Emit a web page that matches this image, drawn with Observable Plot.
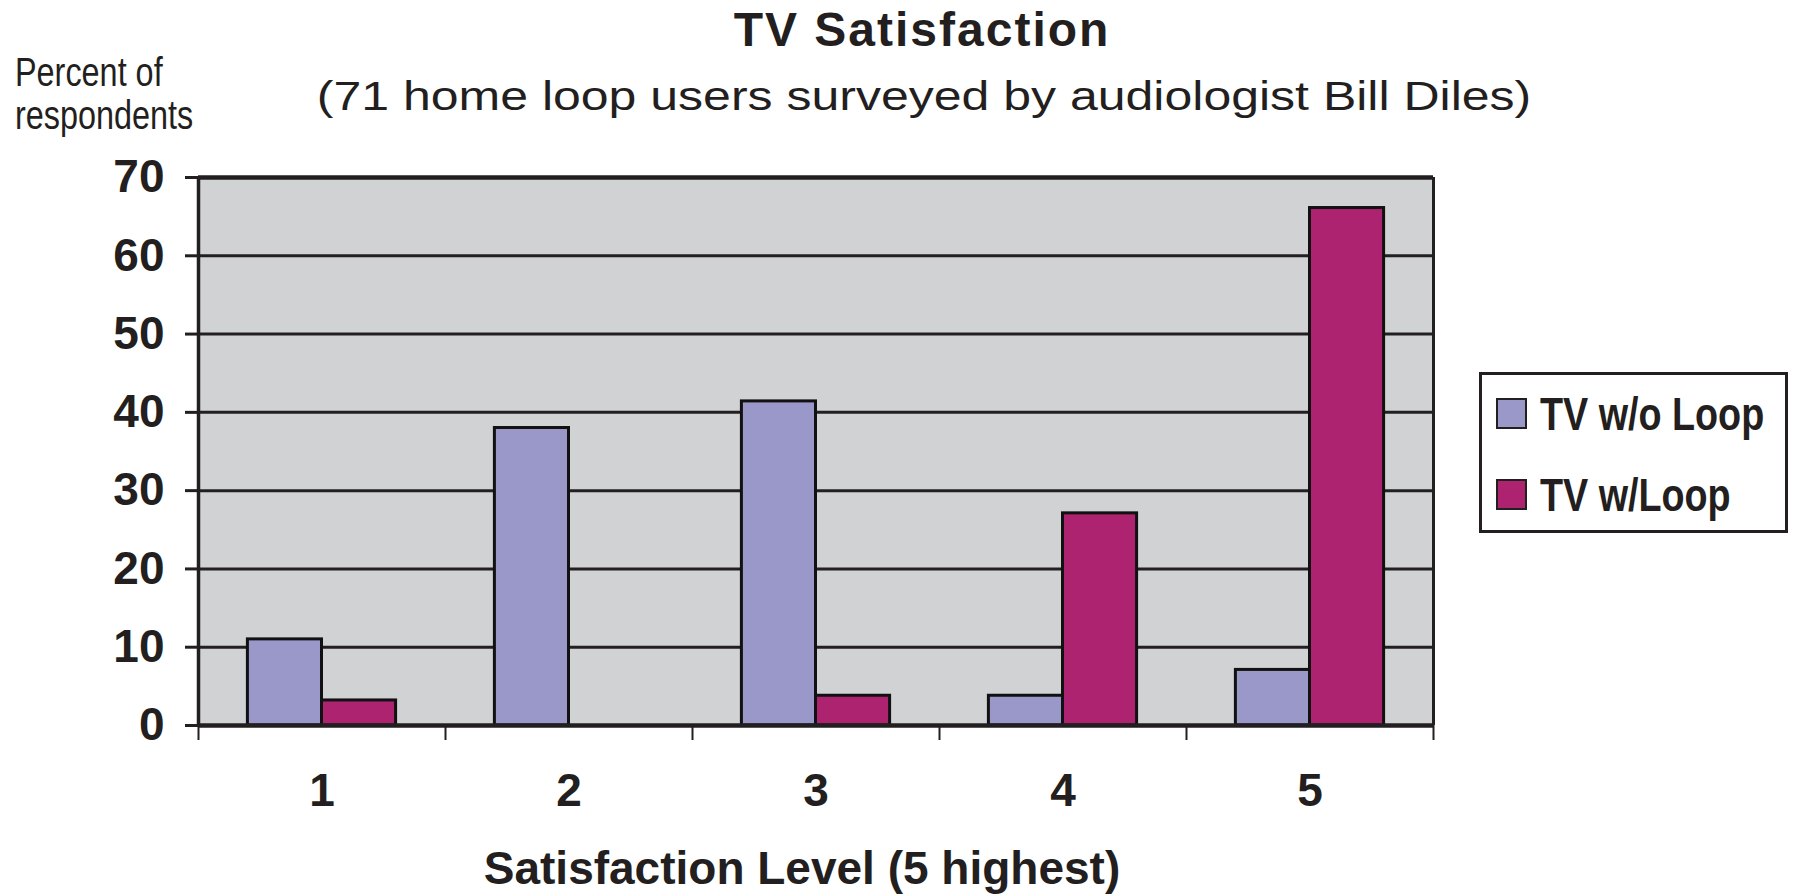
<!DOCTYPE html>
<html>
<head>
<meta charset="utf-8">
<script src="https://cdn.jsdelivr.net/npm/d3@7"></script>
<script src="https://cdn.jsdelivr.net/npm/@observablehq/plot@0.6"></script>
<style>
  html, body { margin: 0; padding: 0; background: #fff; }
  #wrap { position: relative; width: 1794px; height: 894px; overflow: hidden; color: #231f20; }
  #chart { position: absolute; left: 0; top: 0; }
  .txt { position: absolute; white-space: nowrap; font-family: "Liberation Sans", Arial, sans-serif; }
  #title { left: 922px; top: 6px; font-size: 48px; line-height: 48px; font-weight: bold; letter-spacing: 2px; transform: translateX(-50%); }
  #subtitle { left: 924px; top: 76px; font-size: 40px; line-height: 40px; transform: translateX(-50%) scaleX(1.25); }
  .ylab { left: 15px; font-size: 41px; line-height: 41px; transform: scaleX(0.79); transform-origin: 0 0; }
  #legend { position: absolute; left: 1479px; top: 372px; width: 303px; height: 155px; border: 3px solid #231f20; background: #fff; }
  .item { position: absolute; left: 14px; height: 31px; font-family: "Liberation Sans", Arial, sans-serif; font-weight: bold; font-size: 46px; white-space: nowrap; }
  .sw { position: absolute; left: 0; top: 0; width: 27px; height: 27px; border: 2px solid #231f20; }
  .lab { position: absolute; left: 44px; top: -7px; line-height: 46px; transform: scaleX(0.82); transform-origin: 0 0; }
</style>
</head>
<body>
<div id="wrap">
  <div id="chart"></div>
  <div id="title" class="txt"></div>
  <div id="subtitle" class="txt"></div>
  <div id="legend"></div>
</div>
<script>
// ---- data ----
const titleText = "TV Satisfaction";
const subtitleText = "(71 home loop users surveyed by audiologist Bill Diles)";
const yLabelLines = ["Percent of", "respondents"];
const xLabelText = "Satisfaction Level (5 highest)";
const levels = [1, 2, 3, 4, 5];
const seriesNames = ["TV w/o Loop", "TV w/Loop"];
const withoutLoop = [11, 38, 41.4, 3.8, 7.1];
const withLoop = [3.2, 0, 3.8, 27.1, 66.1];
const seriesColors = ["#9a97c9", "#ae2370"];
const yTicks = [0, 10, 20, 30, 40, 50, 60, 70];

// ---- table ----
const rows = [];
levels.forEach((l, i) => {
  rows.push({level: l, series: seriesNames[0], value: withoutLoop[i], side: -1});
  rows.push({level: l, series: seriesNames[1], value: withLoop[i], side: 1});
});
const boundaries = [levels[0] - 0.5, ...levels.map(l => l + 0.5)];
const barW = 0.3;

const ink = "#231f20";

const chart = Plot.plot({
  width: 1794,
  height: 894,
  marginLeft: 198,
  marginRight: 361,
  marginTop: 177,
  marginBottom: 169,
  style: {
    fontFamily: "'Liberation Sans', Arial, sans-serif",
    fontSize: "46px",
    fontWeight: "bold",
    color: ink,
    background: "transparent",
    overflow: "visible"
  },
  x: {domain: [boundaries[0], boundaries[boundaries.length - 1]], axis: null},
  y: {domain: [0, 70], axis: null},
  color: {domain: seriesNames, range: seriesColors},
  marks: [
    Plot.frame({fill: "#d1d2d4", stroke: "none"}),
    Plot.ruleY(yTicks.filter(t => t > 0 && t < 70), {stroke: ink, strokeWidth: 3}),
    Plot.rectY(rows, {
      x1: d => d.side < 0 ? d.level - barW : d.level,
      x2: d => d.side < 0 ? d.level : d.level + barW,
      y1: 0,
      y2: "value",
      fill: "series",
      stroke: "#111",
      strokeWidth: 3
    }),
    Plot.ruleY([0, 70], {stroke: ink, strokeWidth: 4.5}),
    Plot.ruleX([boundaries[0]], {stroke: ink, strokeWidth: 3.5}),
    Plot.ruleX([boundaries[boundaries.length - 1]], {stroke: ink, strokeWidth: 3}),
    Plot.axisY({ticks: yTicks, tickSize: 13, tickPadding: 21, strokeWidth: 3, label: null, fill: ink}),
    Plot.axisX({ticks: boundaries, tickSize: 15, tickFormat: () => "", strokeWidth: 2, label: null}),
    Plot.axisX({ticks: levels, tickSize: 0, tickPadding: 48, tickFormat: d => String(d), label: null, fill: ink}),
    Plot.text([xLabelText], {frameAnchor: "bottom", dy: 158, text: d => d, fontSize: 46, fontWeight: "bold", fill: ink, letterSpacing: 0.7, dx: -14})
  ]
});
document.getElementById("chart").appendChild(chart);

// ---- HTML text ----
document.getElementById("title").textContent = titleText;
document.getElementById("subtitle").textContent = subtitleText;
const wrap = document.getElementById("wrap");
yLabelLines.forEach((line, i) => {
  const el = document.createElement("div");
  el.className = "txt ylab";
  el.style.top = (52 + i * 43) + "px";
  el.textContent = line;
  wrap.appendChild(el);
});

const legend = document.getElementById("legend");
seriesNames.forEach((name, i) => {
  const item = document.createElement("div");
  item.className = "item";
  item.style.top = (23 + i * 81) + "px";
  const sw = document.createElement("div");
  sw.className = "sw";
  sw.style.background = seriesColors[i];
  const lab = document.createElement("div");
  lab.className = "lab";
  lab.textContent = name;
  item.appendChild(sw);
  item.appendChild(lab);
  legend.appendChild(item);
});
</script>
</body>
</html>
